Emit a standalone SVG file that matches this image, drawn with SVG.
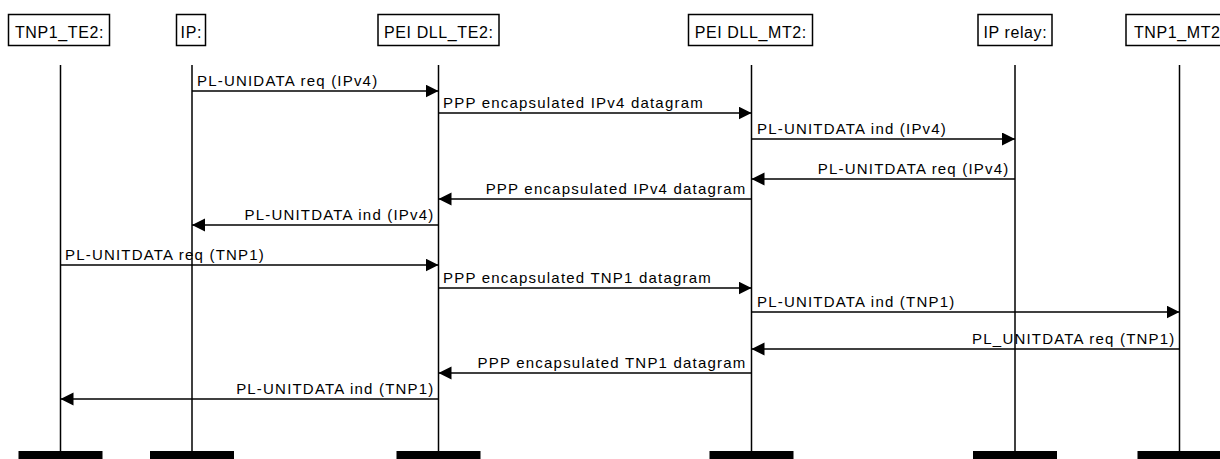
<svg xmlns="http://www.w3.org/2000/svg" width="1220" height="459" viewBox="0 0 1220 459">
<style>
.box{fill:#fff;stroke:#000;stroke-width:1.5}
.life{stroke:#000;stroke-width:1.5}
.bar{fill:#000}
.hd{font-family:"Liberation Sans",Arial,sans-serif;font-size:16px;letter-spacing:0.6px;fill:#000;text-anchor:middle}
.msg{stroke:#000;stroke-width:1.5;fill:none;marker-end:url(#ah)}
.lbl{font-family:"Liberation Sans",Arial,sans-serif;font-size:15px;letter-spacing:1.2px;fill:#000}
.r{text-anchor:end}
</style>
<defs>
<marker id="ah" markerUnits="userSpaceOnUse" markerWidth="14" markerHeight="14" refX="13" refY="6.5" orient="auto">
<path d="M0,0 L13,6.5 L0,13 z" fill="#000"/>
</marker>
</defs>
<rect width="1220" height="459" fill="#fff"/>
<g id="tnp1_te2">
<line class="life" x1="60.5" y1="65" x2="60.5" y2="452"/>
<rect class="bar" x="18.5" y="451" width="84" height="8"/>
<rect class="box" x="8.5" y="14.5" width="101" height="31"/>
<text class="hd" x="59.5" y="37.5">TNP1_TE2:</text>
</g>
<g id="ip">
<line class="life" x1="192" y1="65" x2="192" y2="452"/>
<rect class="bar" x="150" y="451" width="84" height="8"/>
<rect class="box" x="176.5" y="14.5" width="29" height="31"/>
<text class="hd" x="191.3" y="37.5">IP:</text>
</g>
<g id="pei_dll_te2">
<line class="life" x1="438.5" y1="65" x2="438.5" y2="452"/>
<rect class="bar" x="396.5" y="451" width="84" height="8"/>
<rect class="box" x="378" y="14.5" width="121" height="31"/>
<text class="hd" x="438.8" y="37.5">PEI DLL_TE2:</text>
</g>
<g id="pei_dll_mt2">
<line class="life" x1="751.5" y1="65" x2="751.5" y2="452"/>
<rect class="bar" x="709.5" y="451" width="84" height="8"/>
<rect class="box" x="688.5" y="14.5" width="124" height="31"/>
<text class="hd" x="750.8" y="37.5">PEI DLL_MT2:</text>
</g>
<g id="ip_relay">
<line class="life" x1="1015" y1="65" x2="1015" y2="452"/>
<rect class="bar" x="973" y="451" width="84" height="8"/>
<rect class="box" x="978" y="14.5" width="74" height="31"/>
<text class="hd" x="1015.3" y="37.5">IP relay:</text>
</g>
<g id="tnp1_mt2">
<line class="life" x1="1179.5" y1="65" x2="1179.5" y2="452"/>
<rect class="bar" x="1137.5" y="451" width="84" height="8"/>
<rect class="box" x="1126" y="14.5" width="110" height="31"/>
<text class="hd" x="1179.8" y="37.5">TNP1_MT2:</text>
</g>
<g id="connectors">
<line class="msg" x1="192" y1="91" x2="438.5" y2="91"/>
<text class="lbl" x="197" y="86">PL-UNIDATA req (IPv4)</text>
<line class="msg" x1="438.5" y1="113" x2="751.5" y2="113"/>
<text class="lbl" x="443" y="108">PPP encapsulated IPv4 datagram</text>
<line class="msg" x1="751.5" y1="139" x2="1015" y2="139"/>
<text class="lbl" x="757" y="134">PL-UNITDATA ind (IPv4)</text>
<line class="msg" x1="1015" y1="179" x2="751.5" y2="179"/>
<text class="lbl r" x="1009.5" y="174">PL-UNITDATA req (IPv4)</text>
<line class="msg" x1="751.5" y1="199" x2="438.5" y2="199"/>
<text class="lbl r" x="746.5" y="194">PPP encapsulated IPv4 datagram</text>
<line class="msg" x1="438.5" y1="225" x2="192" y2="225"/>
<text class="lbl r" x="434.5" y="220">PL-UNITDATA ind (IPv4)</text>
<line class="msg" x1="60.5" y1="265" x2="438.5" y2="265"/>
<text class="lbl" x="65" y="260">PL-UNITDATA req (TNP1)</text>
<line class="msg" x1="438.5" y1="288" x2="751.5" y2="288"/>
<text class="lbl" x="443" y="283">PPP encapsulated TNP1 datagram</text>
<line class="msg" x1="751.5" y1="312" x2="1179.5" y2="312"/>
<text class="lbl" x="757" y="307">PL-UNITDATA ind (TNP1)</text>
<line class="msg" x1="1179.5" y1="349" x2="751.5" y2="349"/>
<text class="lbl r" x="1175.5" y="344">PL_UNITDATA req (TNP1)</text>
<line class="msg" x1="751.5" y1="373" x2="438.5" y2="373"/>
<text class="lbl r" x="746.5" y="368">PPP encapsulated TNP1 datagram</text>
<line class="msg" x1="438.5" y1="399" x2="60.5" y2="399"/>
<text class="lbl r" x="434.5" y="394">PL-UNITDATA ind (TNP1)</text>
</g>
</svg>
